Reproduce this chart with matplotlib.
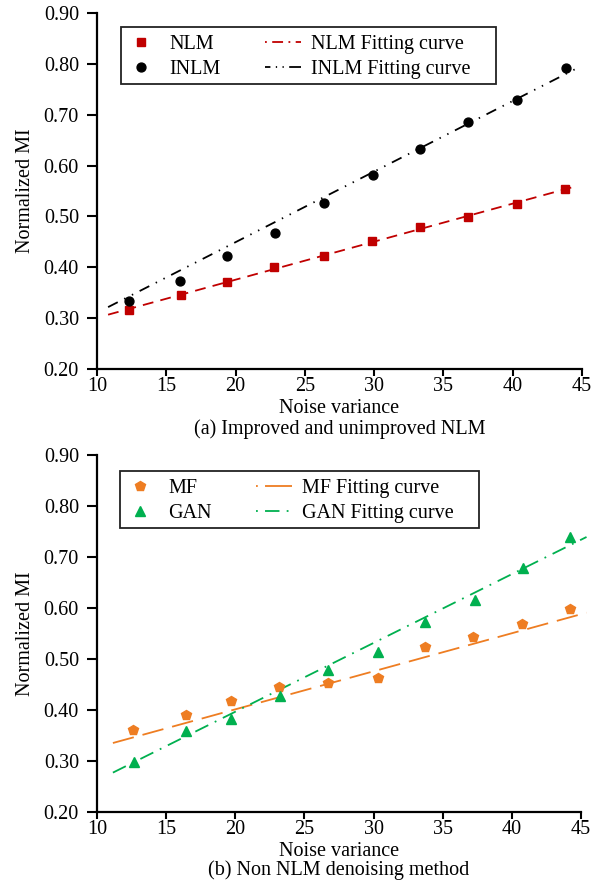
import matplotlib
matplotlib.use("Agg")
import matplotlib.pyplot as plt
from matplotlib.patches import Rectangle
import numpy as np

plt.rcParams['font.family'] = ['Liberation Serif', 'DejaVu Serif']

# ---- data: panel (a) ----
nlm_x = [12.3, 16.05, 19.35, 22.8, 26.4, 29.85, 33.3, 36.8, 40.3, 43.8]
nlm_y = [0.316, 0.345, 0.372, 0.400, 0.423, 0.452, 0.480, 0.499, 0.525, 0.554]
inlm_x = [12.3, 16.0, 19.35, 22.85, 26.4, 29.9, 33.3, 36.8, 40.3, 43.85]
inlm_y = [0.334, 0.374, 0.422, 0.467, 0.527, 0.581, 0.633, 0.685, 0.728, 0.791]
# fitted lines: slope, intercept, x-range
nlm_fit = (0.00748, 0.226)
inlm_fit = (0.01388, 0.1718)
fit_range_a = (10.8, 44.7)

# ---- data: panel (b) ----
mf_x = [12.6, 16.4, 19.7, 23.15, 26.7, 30.35, 33.7, 37.2, 40.7, 44.2]
mf_y = [0.360, 0.390, 0.417, 0.445, 0.452, 0.462, 0.524, 0.543, 0.568, 0.598]
gan_x = [12.7, 16.4, 19.7, 23.2, 26.7, 30.3, 33.7, 37.3, 40.8, 44.2]
gan_y = [0.298, 0.359, 0.383, 0.428, 0.478, 0.513, 0.573, 0.615, 0.678, 0.739]
mf_fit = (0.00746, 0.2521)
gan_fit = (0.01349, 0.1268)
fit_range_b = (11.15, 45.4)

x_ticks = [10, 15, 20, 25, 30, 35, 40, 45]
y_ticks = [0.20, 0.30, 0.40, 0.50, 0.60, 0.70, 0.80, 0.90]

RED = '#C00000'
BLACK = '#000000'
ORANGE = '#EE7D22'
GREEN = '#00B04F'

FS = 14.5

W, H = 608, 885
fig = plt.figure(figsize=(W / 100, H / 100), dpi=100)


def px_axes(l, t, r, b):
    return fig.add_axes([l / W, 1 - b / H, (r - l) / W, (b - t) / H])


def style_axes(ax, top, bottom):
    ax.set_xlim(10, 45)
    ax.set_ylim(0.20, 0.90)
    ax.set_xticks(x_ticks)
    ax.set_yticks(y_ticks)
    ax.set_yticklabels([f"{v:.2f}" for v in y_ticks])
    for s in ('top', 'right'):
        ax.spines[s].set_visible(False)
    for s in ('left', 'bottom'):
        ax.spines[s].set_linewidth(1.6)
    ax.tick_params(axis='both', direction='out', width=1.5, labelsize=FS)
    ax.tick_params(axis='y', length=7, pad=6)
    ax.tick_params(axis='x', length=5, pad=0.5)
    ax.set_xlabel('Noise variance', fontsize=FS)
    ax.set_ylabel('Normalized MI', fontsize=FS)
    h = bottom - top
    ax.xaxis.set_label_coords(0.5, -30 / h)
    ax.yaxis.set_label_coords(-0.128, 0.5)


def fit_line(ax, fit, xr, **kw):
    xs = np.array(xr)
    ax.plot(xs, fit[0] * xs + fit[1], clip_on=False, **kw)


leg_kw = dict(loc='upper left', ncol=2, borderaxespad=0, frameon=False,
              fontsize=FS, handlelength=1.8, columnspacing=2.2,
              handletextpad=0.5, labelspacing=0.3, borderpad=0)


def boxed(leg, pad_l, pad_r, pad_t, pad_b):
    """Draw a rectangular frame around a legend with separate margins."""
    fig.canvas.draw()
    bb = leg.get_window_extent()
    x0, y0 = bb.x0 - pad_l, bb.y0 - pad_b
    x1, y1 = bb.x1 + pad_r, bb.y1 + pad_t
    fig.add_artist(Rectangle((x0 / W, y0 / H), (x1 - x0) / W, (y1 - y0) / H,
                             transform=fig.transFigure, fill=False,
                             edgecolor='#222222', lw=1.3, zorder=5))


# ---- panel (a) ----
ax1 = px_axes(97, 13, 582, 369)
style_axes(ax1, 13, 369)
h1, = ax1.plot(nlm_x, nlm_y, 's', color=RED, ms=6.3, lw=0, label='NLM')
h2, = ax1.plot(inlm_x, inlm_y, 'o', color=BLACK, ms=6.4, lw=0, label='INLM')
fit_line(ax1, nlm_fit, fit_range_a, color=RED, lw=1.3, dashes=(6, 4), zorder=1)
fit_line(ax1, inlm_fit, fit_range_a, color=BLACK, lw=1.3,
         dashes=(6, 4, 0.8, 4, 0.8, 4), zorder=1)
l1, = ax1.plot([], [], color=RED, lw=1.3, dashes=(1, 3, 6, 3))
l2, = ax1.plot([], [], color=BLACK, lw=1.3, dashes=(3, 3, 0.7, 3, 0.7, 3, 8, 3))
l1.set_label('NLM Fitting curve')
l2.set_label('INLM Fitting curve')
leg = ax1.legend(handles=[h1, h2, l1, l2],
                 bbox_to_anchor=(26 / 485, (369 - 35) / 356), **leg_kw)

# ---- panel (b) ----
ax2 = px_axes(97, 455, 581, 812)
style_axes(ax2, 455, 812)
h3, = ax2.plot(mf_x, mf_y, 'p', color=ORANGE, ms=7.8, lw=0, label='MF')
h4, = ax2.plot(gan_x, gan_y, '^', color=GREEN, ms=6.8, lw=0, label='GAN')
fit_line(ax2, mf_fit, fit_range_b, color=ORANGE, lw=1.3, dashes=(12, 5), zorder=1)
fit_line(ax2, gan_fit, fit_range_b, color=GREEN, lw=1.3,
         dashes=(8, 4, 1, 4), zorder=1)
l3, = ax2.plot([], [], color=ORANGE, lw=1.3, dashes=(1, 4, 20, 5))
l4, = ax2.plot([], [], color=GREEN, lw=1.3, dashes=(1, 4, 8, 4))
l3.set_label('MF Fitting curve')
l4.set_label('GAN Fitting curve')
leg2 = ax2.legend(handles=[h3, h4, l3, l4],
                  bbox_to_anchor=(25 / 484, (812 - 479) / 357), **leg_kw)

fig.text(339.5 / W, 1 - 429 / H, '(a) Improved and unimproved NLM',
         ha='center', va='center', fontsize=FS)
fig.text(339 / W, 1 - 870 / H, '(b) Non NLM denoising method',
         ha='center', va='center', fontsize=FS)

boxed(leg, 2, 25, 8, 5)
boxed(leg2, 2, 25, 8, 5)

fig.savefig('out.png', dpi=100)
